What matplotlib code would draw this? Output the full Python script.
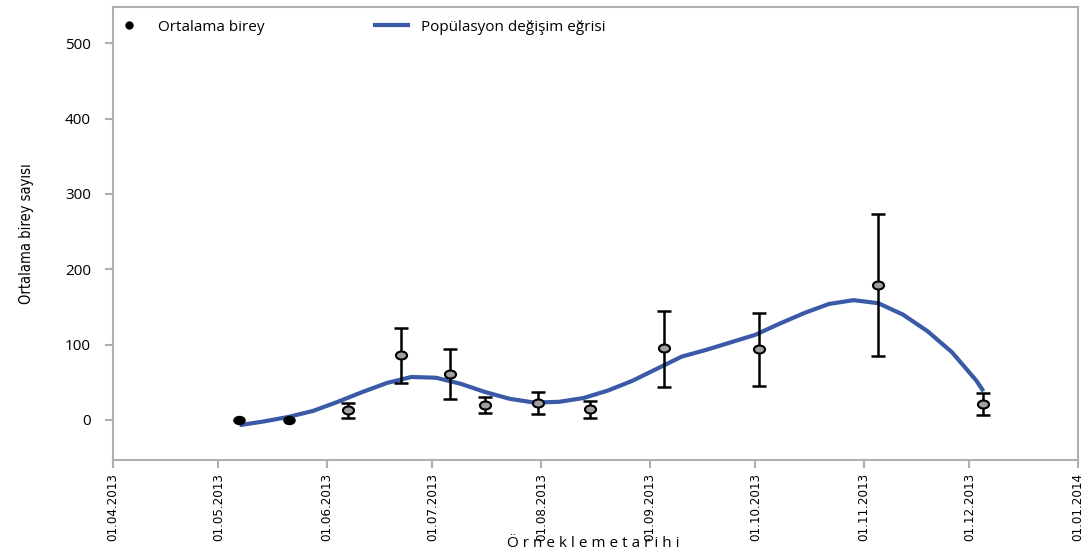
import matplotlib
matplotlib.use("Agg")
from matplotlib import pyplot as plt
from matplotlib.lines import Line2D
from matplotlib.path import Path
import datetime as dt

# Sample dates and mean counts
sample_dates = ["2013-05-07", "2013-05-21", "2013-06-07", "2013-06-22", "2013-07-06",
                "2013-07-16", "2013-07-31", "2013-08-15", "2013-09-05", "2013-10-02",
                "2013-11-05", "2013-12-05"]
mean_count = [0, 0, 13, 86, 61, 20, 22, 15, 95, 94, 179, 21]
err_low = [0, 0, 3, 49, 28, 9, 8, 3, 44, 45, 85, 7]
err_high = [0, 0, 22, 122, 94, 30, 37, 25, 145, 142, 273, 36]

# Population change curve
curve_dates = ["2013-05-07", "2013-05-14", "2013-05-21", "2013-05-28", "2013-06-04",
               "2013-06-11", "2013-06-18", "2013-06-25", "2013-07-02", "2013-07-09",
               "2013-07-16", "2013-07-23", "2013-07-30", "2013-08-06", "2013-08-13",
               "2013-08-20", "2013-08-27", "2013-09-03", "2013-09-10", "2013-09-17",
               "2013-09-24", "2013-10-01", "2013-10-08", "2013-10-15", "2013-10-22",
               "2013-10-29", "2013-11-05", "2013-11-12", "2013-11-19", "2013-11-26",
               "2013-12-03", "2013-12-05"]
curve_vals = [-7, -2, 4, 12, 24, 37, 49, 57, 56, 48, 37, 28, 23, 24, 29, 39, 52, 68,
              84, 93, 103, 113, 128, 142, 154, 159, 155, 140, 118, 90, 52, 38]

tick_dates = ["2013-04-01", "2013-05-01", "2013-06-01", "2013-07-01", "2013-08-01",
              "2013-09-01", "2013-10-01", "2013-11-01", "2013-12-01", "2014-01-01"]

to_date = lambda s: dt.datetime.strptime(s, "%Y-%m-%d")
xs = [to_date(s) for s in sample_dates]
cx = [to_date(s) for s in curve_dates]
tx = [to_date(s) for s in tick_dates]

# flattened circle marker, like the original
circ = Path.unit_circle()
ellipse = Path(circ.vertices * [1.0, 0.72], circ.codes)

fig = plt.figure(figsize=(10.88, 5.56), dpi=100)
ax = fig.add_axes([0.104, 0.173, 0.887, 0.814])

ax.plot(cx, curve_vals, color="#3a5aa8", lw=3, zorder=2, solid_capstyle="butt")

yerr = [[m - lo for m, lo in zip(mean_count, err_low)],
        [hi - m for m, hi in zip(mean_count, err_high)]]
ax.errorbar(xs[2:], mean_count[2:], yerr=[yerr[0][2:], yerr[1][2:]], fmt="none",
            ecolor="black", elinewidth=1.8, capsize=5, capthick=1.8, zorder=3)
ax.plot(xs[2:], mean_count[2:], ls="none", marker=ellipse, markersize=8,
        markerfacecolor="#a0a0a0", markeredgecolor="black", markeredgewidth=1.5,
        zorder=4)
ax.plot(xs[:2], mean_count[:2], ls="none", marker=ellipse, markersize=8,
        color="black", zorder=4)

ax.set_xlim(tx[0], tx[-1])
ax.set_ylim(-53, 548)
ax.set_yticks([0, 100, 200, 300, 400, 500])
ax.set_xticks(tx)
ax.set_xticklabels([d.strftime("%d.%m.%Y") for d in tx], rotation=90,
                   family="DejaVu Sans", fontstretch="condensed", fontsize=9.5)
for lab in ax.get_yticklabels():
    lab.set_fontsize(11)
    lab.set_family("Open Sans")

for sp in ax.spines.values():
    sp.set_color("#b0b0b0")
    sp.set_linewidth(1.5)
ax.tick_params(axis="both", color="#b0b0b0", width=1.5, length=6)
ax.tick_params(axis="y", pad=10)

ax.set_ylabel("Ortalama birey sayısı", family="DejaVu Sans", fontstretch="condensed",
              fontsize=10.5, labelpad=22)
fig.text(0.545, 0.023, "Ö r n e k l e m e t a r i h i", family="Open Sans",
         fontsize=11, ha="center", va="center")

handles = [Line2D([], [], marker="o", ls="none", color="black", markersize=5),
           Line2D([], [], color="#3a5aa8", lw=3)]
ax.legend(handles, ["Ortalama birey", "Popülasyon değişim eğrisi"], ncol=2,
          frameon=False, loc="upper left", bbox_to_anchor=(-0.015, 1.003),
          prop={"family": "Open Sans", "size": 11}, columnspacing=7.2,
          handlelength=2.2)

fig.savefig("out.png", dpi=100)
